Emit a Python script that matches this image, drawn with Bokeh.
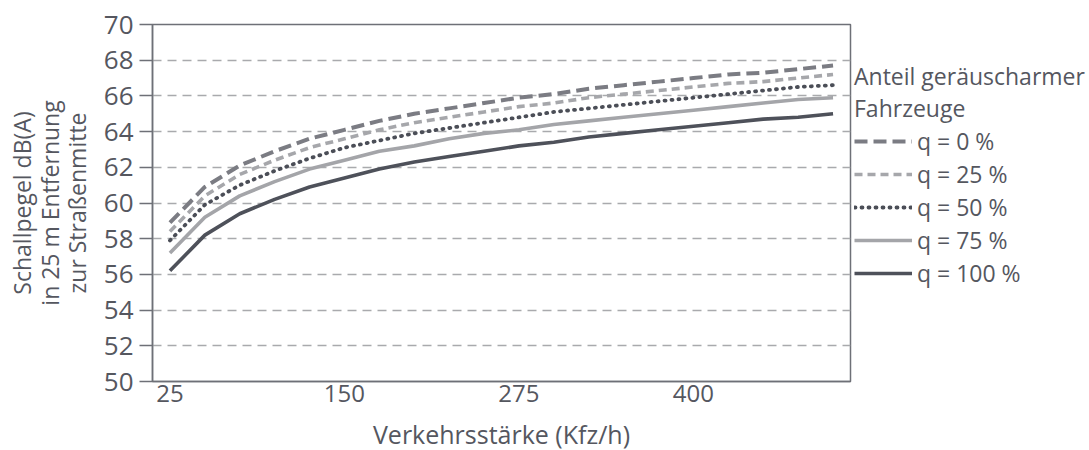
from bokeh.plotting import figure
from bokeh.models import Range1d, FixedTicker, Legend, LegendItem
from bokeh.embed import file_html
from bokeh.resources import INLINE

# Data (Verkehrsstärke in Kfz/h, Schallpegel in dB(A))
traffic = [25, 50, 75, 100, 125, 150, 175, 200, 225, 250,
           275, 300, 325, 350, 375, 400, 425, 450, 475, 500]
q0 = [58.9, 60.9, 62.1, 62.9, 63.6, 64.1, 64.6, 65.0, 65.3, 65.6,
      65.9, 66.1, 66.4, 66.6, 66.8, 67.0, 67.2, 67.3, 67.5, 67.7]
q25 = [58.4, 60.4, 61.6, 62.4, 63.1, 63.6, 64.1, 64.5, 64.8, 65.1,
       65.4, 65.6, 65.9, 66.1, 66.3, 66.5, 66.7, 66.8, 67.0, 67.2]
q50 = [57.9, 59.9, 61.0, 61.8, 62.5, 63.1, 63.5, 63.9, 64.2, 64.5,
       64.8, 65.1, 65.3, 65.5, 65.7, 65.9, 66.1, 66.3, 66.5, 66.6]
q75 = [57.2, 59.2, 60.4, 61.2, 61.9, 62.4, 62.9, 63.2, 63.6, 63.9,
       64.1, 64.4, 64.6, 64.8, 65.0, 65.2, 65.4, 65.6, 65.8, 65.9]
q100 = [56.2, 58.2, 59.4, 60.2, 60.9, 61.4, 61.9, 62.3, 62.6, 62.9,
        63.2, 63.4, 63.7, 63.9, 64.1, 64.3, 64.5, 64.7, 64.8, 65.0]
series_labels = ["q = 0 %", "q = 25 %", "q = 50 %", "q = 75 %", "q = 100 %"]
x_ticks = [25, 150, 275, 400]
y_ticks = [50, 52, 54, 56, 58, 60, 62, 64, 66, 68, 70]

FONT = "Open Sans"
TXT = "#55575f"
AX = "#6e7077"

p = figure(frame_width=698, frame_height=357, output_backend="svg", toolbar_location=None,
           x_range=Range1d(12.5, 512.5), y_range=Range1d(50, 70),
           min_border_left=152, min_border_top=24, min_border_right=239,
           min_border_bottom=69)
p.background_fill_color = "white"
p.border_fill_color = "white"
p.outline_line_color = AX
p.outline_line_width = 1.5

# grid
p.xgrid.visible = False
p.ygrid.grid_line_color = "#a9aaad"
p.ygrid.grid_line_dash = "9 6"
p.ygrid.grid_line_width = 1.3
p.ygrid.ticker = FixedTicker(ticks=y_ticks)

# axes
p.yaxis.ticker = FixedTicker(ticks=y_ticks)
p.xaxis.ticker = FixedTicker(ticks=x_ticks)
for ax in (p.xaxis[0], p.yaxis[0]):
    ax.axis_line_color = AX
    ax.axis_line_width = 1.5
    ax.major_tick_line_color = AX
    ax.major_tick_line_width = 1.5
    ax.minor_tick_line_color = None
    ax.major_label_text_font = FONT
    ax.major_label_text_color = TXT
    ax.axis_label_text_font = FONT
    ax.axis_label_text_color = TXT
    ax.axis_label_text_font_style = "normal"

p.yaxis.major_tick_out = 13
p.yaxis.major_tick_in = 0
p.yaxis.major_label_standoff = 6
p.yaxis.major_label_text_font_size = "26px"
p.yaxis.axis_label = "Schallpegel dB(A)\nin 25 m Entfernung\nzur Straßenmitte"
p.yaxis.axis_label_text_font_size = "23px"
p.yaxis.axis_label_text_line_height = 0.85
p.yaxis.axis_label_standoff = 8

p.xaxis.major_tick_out = 0
p.xaxis.major_tick_in = 0
p.xaxis.major_label_standoff = 3
p.xaxis.major_label_text_font_size = "24px"
p.xaxis.axis_label = "Verkehrsstärke (Kfz/h)"
p.xaxis.axis_label_text_font_size = "25px"
p.xaxis.axis_label_standoff = 12

styles = [
    (q0, "#7b7c83", 4.0, "13 6", "butt"),
    (q25, "#a6a7ab", 3.6, "8 5", "butt"),
    (q50, "#4b4e57", 3.8, "1 6", "round"),
    (q75, "#a4a5a9", 3.6, "solid", "butt"),
    (q100, "#4e515a", 3.6, "solid", "butt"),
]
items = []
for (vals, col, lw, dash, cap), lab in zip(styles, series_labels):
    r = p.line(traffic, vals, line_color=col, line_width=lw, line_dash=dash,
               line_cap=cap, line_join="round")
    items.append(LegendItem(label=lab, renderers=[r]))

legend = Legend(items=items, location=(4, 92))
legend.title = "Anteil geräuscharmer\nFahrzeuge"
legend.title_text_font = FONT
legend.title_text_font_size = "23px"
legend.title_text_line_height = 0.9
legend.title_text_font_style = "normal"
legend.title_text_color = TXT
legend.title_standoff = 1
legend.label_text_font = FONT
legend.label_text_font_size = "23px"
legend.label_text_color = TXT
legend.glyph_width = 58
legend.glyph_height = 26
legend.label_height = 26
legend.label_standoff = 5
legend.spacing = 1
legend.padding = 0
legend.margin = 0
legend.border_line_color = None
legend.background_fill_alpha = 0
p.add_layout(legend, "right")

open("out.html", "w").write(file_html(p, INLINE))
